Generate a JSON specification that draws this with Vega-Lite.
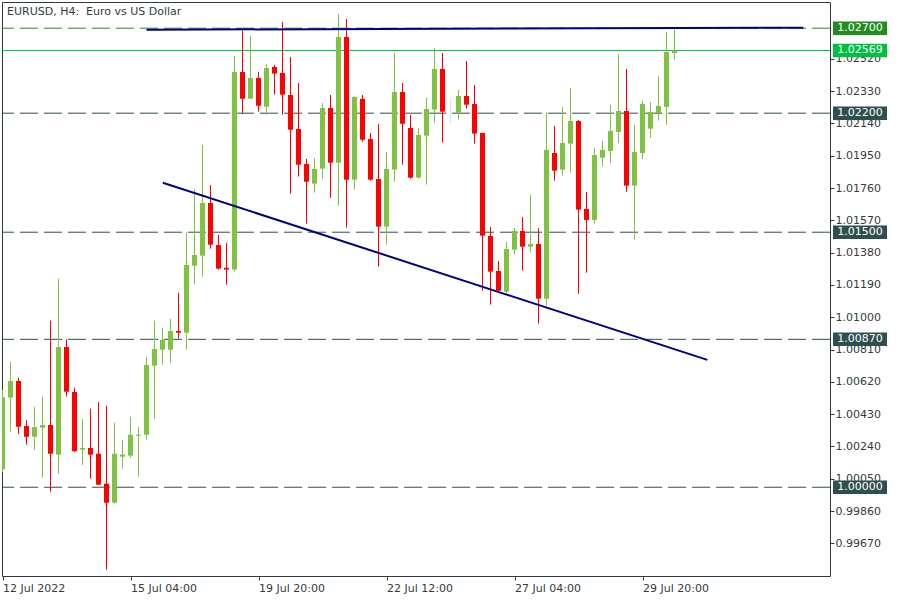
{
  "$schema": "https://vega.github.io/schema/vega-lite/v6.json",
  "width": 828,
  "height": 574,
  "autosize": "none",
  "padding": {"left": 2, "top": 2, "right": 70, "bottom": 24},
  "background": "white",
  "title": {"text": "EURUSD, H4:\u00a0 Euro vs US Dollar", "anchor": "start", "frame": "group", "orient": "top", "offset": -15, "dx": 5, "font": "DejaVu Sans", "fontSize": 11, "fontWeight": "normal", "color": "#333a40"},
  "config": {"view": {"stroke": "#2f3a40", "strokeWidth": 1}, "axis": {"labelOverlap": false, "labelBound": false, "labelFlush": false}},
  "datasets": {
    "candles": [
      {"i":0,"o":1.00106,"h":1.00572,"l":1.00090,"c":1.00529},
      {"i":1,"o":1.00527,"h":1.00739,"l":1.00327,"c":1.00625},
      {"i":2,"o":1.00625,"h":1.00644,"l":1.00313,"c":1.00356},
      {"i":3,"o":1.00360,"h":1.00396,"l":1.00250,"c":1.00297},
      {"i":4,"o":1.00297,"h":1.00474,"l":1.00219,"c":1.00354},
      {"i":5,"o":1.00350,"h":1.00533,"l":1.00056,"c":1.00366},
      {"i":6,"o":1.00366,"h":1.00980,"l":0.99974,"c":1.00197},
      {"i":7,"o":1.00192,"h":1.01227,"l":1.00080,"c":1.00825},
      {"i":8,"o":1.00825,"h":1.00870,"l":1.00533,"c":1.00562},
      {"i":9,"o":1.00560,"h":1.00586,"l":1.00206,"c":1.00212},
      {"i":10,"o":1.00221,"h":1.00403,"l":1.00131,"c":1.00231},
      {"i":11,"o":1.00231,"h":1.00462,"l":1.00050,"c":1.00192},
      {"i":12,"o":1.00197,"h":1.00501,"l":1.00013,"c":1.00015},
      {"i":13,"o":1.00021,"h":1.00480,"l":0.99515,"c":0.99909},
      {"i":14,"o":0.99909,"h":1.00380,"l":0.99903,"c":1.00197},
      {"i":15,"o":1.00180,"h":1.00280,"l":1.00109,"c":1.00192},
      {"i":16,"o":1.00186,"h":1.00415,"l":1.00174,"c":1.00309},
      {"i":17,"o":1.00303,"h":1.00356,"l":1.00062,"c":1.00309},
      {"i":18,"o":1.00309,"h":1.00766,"l":1.00280,"c":1.00719},
      {"i":19,"o":1.00715,"h":1.00980,"l":1.00403,"c":1.00813},
      {"i":20,"o":1.00809,"h":1.00939,"l":1.00721,"c":1.00868},
      {"i":21,"o":1.00809,"h":1.00991,"l":1.00733,"c":1.00919},
      {"i":22,"o":1.00919,"h":1.01144,"l":1.00874,"c":1.00909},
      {"i":23,"o":1.00909,"h":1.01500,"l":1.00809,"c":1.01307},
      {"i":24,"o":1.01303,"h":1.01753,"l":1.01194,"c":1.01366},
      {"i":25,"o":1.01362,"h":1.02013,"l":1.01239,"c":1.01672},
      {"i":26,"o":1.01672,"h":1.01778,"l":1.01403,"c":1.01427},
      {"i":27,"o":1.01425,"h":1.01484,"l":1.01280,"c":1.01286},
      {"i":28,"o":1.01291,"h":1.01438,"l":1.01191,"c":1.01280},
      {"i":29,"o":1.01280,"h":1.02537,"l":1.01268,"c":1.02442},
      {"i":30,"o":1.02442,"h":1.02688,"l":1.02197,"c":1.02285},
      {"i":31,"o":1.02285,"h":1.02656,"l":1.02285,"c":1.02407},
      {"i":32,"o":1.02407,"h":1.02444,"l":1.02209,"c":1.02244},
      {"i":33,"o":1.02238,"h":1.02491,"l":1.02191,"c":1.02466},
      {"i":34,"o":1.02472,"h":1.02484,"l":1.02309,"c":1.02433},
      {"i":35,"o":1.02437,"h":1.02737,"l":1.02191,"c":1.02309},
      {"i":36,"o":1.02307,"h":1.02531,"l":1.01727,"c":1.02103},
      {"i":37,"o":1.02107,"h":1.02378,"l":1.01827,"c":1.01897},
      {"i":38,"o":1.01901,"h":1.01931,"l":1.01550,"c":1.01797},
      {"i":39,"o":1.01786,"h":1.01937,"l":1.01733,"c":1.01872},
      {"i":40,"o":1.01874,"h":1.02260,"l":1.01815,"c":1.02231},
      {"i":41,"o":1.02231,"h":1.02307,"l":1.01703,"c":1.01909},
      {"i":42,"o":1.01909,"h":1.02784,"l":1.01656,"c":1.02648},
      {"i":43,"o":1.02648,"h":1.02754,"l":1.01527,"c":1.01809},
      {"i":44,"o":1.01809,"h":1.02300,"l":1.01750,"c":1.02295},
      {"i":45,"o":1.02284,"h":1.02307,"l":1.02033,"c":1.02044},
      {"i":46,"o":1.02048,"h":1.02084,"l":1.01803,"c":1.01809},
      {"i":47,"o":1.01813,"h":1.02137,"l":1.01297,"c":1.01533},
      {"i":48,"o":1.01533,"h":1.01972,"l":1.01427,"c":1.01872},
      {"i":49,"o":1.01868,"h":1.02554,"l":1.01797,"c":1.02325},
      {"i":50,"o":1.02325,"h":1.02378,"l":1.01897,"c":1.02138},
      {"i":51,"o":1.02113,"h":1.02190,"l":1.01815,"c":1.01821},
      {"i":52,"o":1.01821,"h":1.02113,"l":1.01815,"c":1.02072},
      {"i":53,"o":1.02068,"h":1.02290,"l":1.01780,"c":1.02225},
      {"i":54,"o":1.02221,"h":1.02584,"l":1.02144,"c":1.02460},
      {"i":55,"o":1.02460,"h":1.02554,"l":1.02027,"c":1.02209},
      {"i":56,"o":1.02213,"h":1.02288,"l":1.02135,"c":1.02213},
      {"i":57,"o":1.02203,"h":1.02337,"l":1.02162,"c":1.02301},
      {"i":58,"o":1.02301,"h":1.02507,"l":1.02227,"c":1.02250},
      {"i":59,"o":1.02254,"h":1.02366,"l":1.02021,"c":1.02080},
      {"i":60,"o":1.02084,"h":1.02084,"l":1.01156,"c":1.01480},
      {"i":61,"o":1.01478,"h":1.01531,"l":1.01074,"c":1.01268},
      {"i":62,"o":1.01272,"h":1.01331,"l":1.01150,"c":1.01156},
      {"i":63,"o":1.01150,"h":1.01443,"l":1.01138,"c":1.01401},
      {"i":64,"o":1.01397,"h":1.01525,"l":1.01368,"c":1.01507},
      {"i":65,"o":1.01507,"h":1.01590,"l":1.01274,"c":1.01415},
      {"i":66,"o":1.01415,"h":1.01721,"l":1.01380,"c":1.01431},
      {"i":67,"o":1.01431,"h":1.01523,"l":1.00962,"c":1.01109},
      {"i":68,"o":1.01109,"h":1.02205,"l":1.01068,"c":1.01984},
      {"i":69,"o":1.01966,"h":1.02125,"l":1.01803,"c":1.01862},
      {"i":70,"o":1.01868,"h":1.02238,"l":1.01833,"c":1.02025},
      {"i":71,"o":1.02021,"h":1.02348,"l":1.01850,"c":1.02154},
      {"i":72,"o":1.02154,"h":1.02160,"l":1.01138,"c":1.01633},
      {"i":73,"o":1.01637,"h":1.01737,"l":1.01262,"c":1.01572},
      {"i":74,"o":1.01572,"h":1.01996,"l":1.01550,"c":1.01954},
      {"i":75,"o":1.01938,"h":1.02037,"l":1.01886,"c":1.01984},
      {"i":76,"o":1.01978,"h":1.02248,"l":1.01907,"c":1.02096},
      {"i":77,"o":1.02090,"h":1.02548,"l":1.02025,"c":1.02213},
      {"i":78,"o":1.02213,"h":1.02460,"l":1.01737,"c":1.01774},
      {"i":79,"o":1.01774,"h":1.02131,"l":1.01456,"c":1.01972},
      {"i":80,"o":1.01966,"h":1.02272,"l":1.01931,"c":1.02254},
      {"i":81,"o":1.02109,"h":1.02266,"l":1.02056,"c":1.02207},
      {"i":82,"o":1.02201,"h":1.02419,"l":1.02156,"c":1.02243},
      {"i":83,"o":1.02237,"h":1.02678,"l":1.02131,"c":1.02560},
      {"i":84,"o":1.02554,"h":1.02695,"l":1.02513,"c":1.02569}
    ],
    "levels": [
      {"p":1.02700,"k":"res"},
      {"p":1.02569,"k":"bid"},
      {"p":1.02200,"k":"lvl"},
      {"p":1.01500,"k":"lvl"},
      {"p":1.00870,"k":"lvl"},
      {"p":1.00000,"k":"lvl"}
    ],
    "lines": [
      {"id":"top","i":18.0,"p":1.02691},
      {"id":"top","i":100.1,"p":1.02703},
      {"id":"trend","i":20.04,"p":1.01791},
      {"id":"trend","i":88.1,"p":1.00749}
    ]
  },
  "layer": [
    {
      "data": {"name": "levels"},
      "mark": {"type": "rule", "strokeWidth": 1},
      "encoding": {
        "y": {"field": "p", "type": "quantitative", "title": null,
              "scale": {"domain": [0.99478, 1.02854], "nice": false, "zero": false, "padding": 0},
              "axis": {"orient": "right", "values": [0.9967,0.9986,1.0005,1.0024,1.0043,1.0062,1.0081,1.01,1.0119,1.0138,1.0157,1.0176,1.0195,1.0214,1.0233,1.0252],
                       "tickCount": 40,
                       "format": ".5f", "title": null, "domain": false, "grid": false, "tickSize": 4, "tickColor": "#2f3a40",
                       "labelPadding": 1, "labelFont": "DejaVu Sans", "labelFontSize": 11, "labelColor": "#333a40",
                       "labelOverlap": false, "labelFlush": false, "labelBound": false}},
        "color": {"field": "k", "type": "nominal", "legend": null,
                  "scale": {"domain": ["res", "bid", "lvl"], "range": ["#228b22", "#00c040", "#2f4f4f"]}},
        "strokeDash": {"condition": {"test": "datum.k == 'bid'", "value": [1, 0]}, "value": [18, 6]}
      }
    },
    {
      "data": {"name": "candles"},
      "mark": {"type": "rule", "strokeWidth": 1, "clip": true},
      "encoding": {
        "x": {"field": "i", "type": "quantitative", "title": null,
              "scale": {"domain": [-0.0625, 103.4375], "nice": false, "zero": false, "padding": 0},
              "axis": {"orient": "bottom", "values": [0, 16, 32, 48, 64, 80], "tickCount": 40,
                       "labelExpr": "datum.value == 0 ? '12 Jul 2022' : datum.value == 16 ? '15 Jul 04:00' : datum.value == 32 ? '19 Jul 20:00' : datum.value == 48 ? '22 Jul 12:00' : datum.value == 64 ? '27 Jul 04:00' : '29 Jul 20:00'",
                       "title": null, "domain": false, "grid": false, "tickSize": 4, "tickColor": "#2f3a40",
                       "labelAlign": "left", "labelBaseline": "top", "labelPadding": 2, "labelFont": "DejaVu Sans",
                       "labelFontSize": 11, "labelColor": "#333a40", "labelOverlap": false, "labelFlush": false, "labelBound": false}},
        "y": {"field": "l", "type": "quantitative", "title": null},
        "y2": {"field": "h"},
        "color": {"condition": [{"test": "datum.c == datum.o", "value": "#dde5e5"}, {"test": "datum.c > datum.o", "value": "#80c342"}], "value": "#ff0000"}
      }
    },
    {
      "data": {"name": "candles"},
      "mark": {"type": "bar", "size": 5, "clip": true},
      "encoding": {
        "x": {"field": "i", "type": "quantitative", "title": null},
        "y": {"field": "o", "type": "quantitative", "title": null},
        "y2": {"field": "c"},
        "color": {"condition": [{"test": "datum.c == datum.o", "value": "#dde5e5"}, {"test": "datum.c > datum.o", "value": "#80c342"}], "value": "#ff0000"}
      }
    },
    {
      "data": {"name": "lines"},
      "mark": {"type": "line", "color": "#000080", "strokeWidth": 2},
      "encoding": {
        "x": {"field": "i", "type": "quantitative", "title": null},
        "y": {"field": "p", "type": "quantitative", "title": null},
        "detail": {"field": "id"}
      }
    },
    {
      "data": {"name": "levels"},
      "mark": {"type": "point", "shape": "M-1,-0.25L1,-0.25L1,0.25L-1,0.25Z", "size": 2916, "filled": true, "opacity": 1, "strokeWidth": 0},
      "encoding": {
        "x": {"datum": 107.19, "type": "quantitative"},
        "y": {"field": "p", "type": "quantitative", "title": null},
        "color": {"field": "k", "type": "nominal", "legend": null}
      }
    },
    {
      "data": {"name": "levels"},
      "mark": {"type": "text", "font": "DejaVu Sans", "fontSize": 11, "color": "white", "align": "center", "baseline": "middle"},
      "encoding": {
        "x": {"datum": 107.19, "type": "quantitative"},
        "y": {"field": "p", "type": "quantitative", "title": null},
        "text": {"field": "p", "type": "quantitative", "format": ".5f"}
      }
    }
  ]
}
